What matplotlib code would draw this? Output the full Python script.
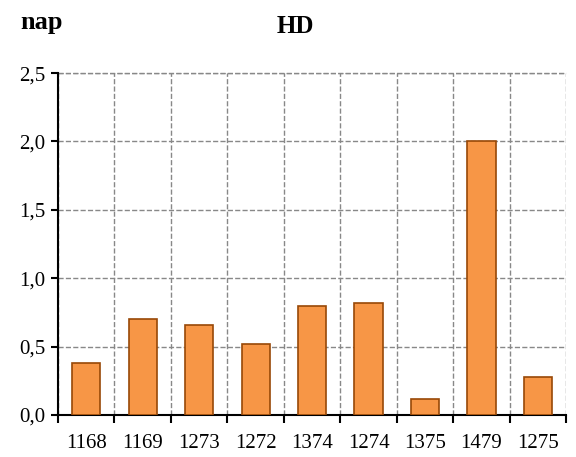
import numpy as np
import matplotlib.pyplot as plt
from matplotlib.ticker import FixedLocator, FuncFormatter

# data
labels = ['1168', '1169', '1273', '1272', '1374', '1274', '1375', '1479', '1275']
values = [0.38, 0.70, 0.66, 0.52, 0.80, 0.82, 0.12, 2.00, 0.28]

plt.rcParams['font.family'] = ['Liberation Serif', 'DejaVu Serif']

fig = plt.figure(figsize=(5.76, 4.57), dpi=100)
ax = fig.add_axes([0.1007, 0.092, 0.8823, 0.748])

x = np.arange(len(labels))
ax.bar(x, values, width=0.5, color='#F79646', edgecolor='#984807', linewidth=1.2, zorder=3)

ax.set_xlim(-0.5, len(labels) - 0.5)
ax.set_ylim(0, 2.5)
ax.set_yticks(np.arange(0, 2.51, 0.5))
ax.yaxis.set_major_formatter(FuncFormatter(lambda v, p: f'{v:.1f}'.replace('.', ',')))

# labels centered on bars, ticks/grid at category boundaries
ax.set_xticks(x)
ax.set_xticklabels(labels)
ax.xaxis.set_minor_locator(FixedLocator(np.arange(-0.5, len(labels), 1.0)))
ax.tick_params(axis='x', which='major', length=0, pad=14, labelsize=15)
ax.tick_params(axis='x', which='minor', length=6, width=1.5, direction='out', color='black')
ax.tick_params(axis='y', length=5, width=1.5, direction='out', labelsize=15, pad=4)

ax.grid(axis='y', which='major', linestyle='--', color='#888888', linewidth=1, zorder=0)
ax.grid(axis='x', which='minor', linestyle='--', color='#888888', linewidth=1, zorder=0)

ax.spines['top'].set_visible(False)
ax.spines['right'].set_visible(False)
ax.spines['left'].set_linewidth(1.5)
ax.spines['bottom'].set_linewidth(1.5)
ax.axhline(2.5, linestyle='--', color='#888888', linewidth=1, zorder=0, clip_on=False)

fig.text(0.512, 0.941, 'HD', ha='center', va='center', fontsize=18, fontweight='bold')
fig.text(0.073, 0.950, 'nap', ha='center', va='center', fontsize=19, fontweight='bold')

fig.savefig('out.png', dpi=100)
